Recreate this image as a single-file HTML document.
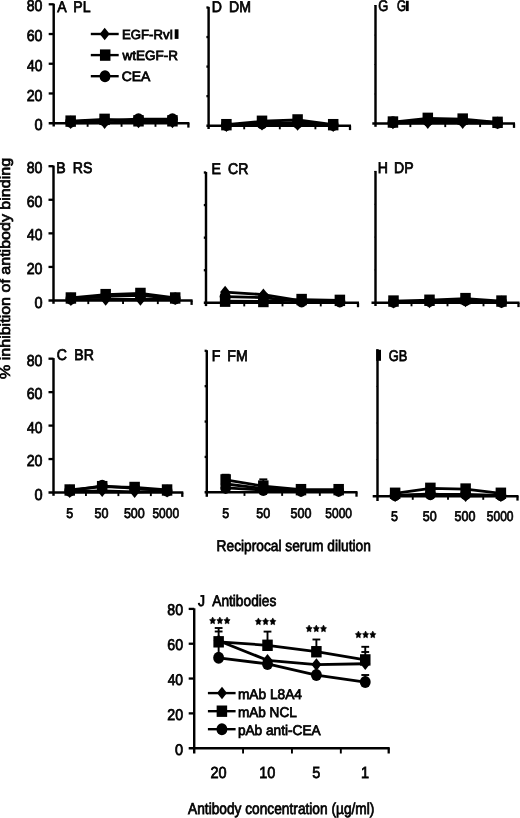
<!DOCTYPE html>
<html><head><meta charset="utf-8"><style>
html,body{margin:0;padding:0;background:#fff;}
body{width:520px;height:818px;overflow:hidden;}
svg{display:block;filter:grayscale(1);}
text{font-family:"Liberation Sans",sans-serif;text-rendering:geometricPrecision;fill:#000;stroke:#000;stroke-width:0.75px;}
</style></head><body>
<svg width="520" height="818" viewBox="0 0 520 818" fill="#000">
<g stroke="none">
</g>
<line x1="53.70" y1="3.70" x2="53.70" y2="126.50" stroke="#000" stroke-width="2.45"/>
<line x1="48.70" y1="123.20" x2="189.40" y2="123.20" stroke="#000" stroke-width="2.45"/>
<line x1="48.70" y1="93.47" x2="53.70" y2="93.47" stroke="#000" stroke-width="2.3"/>
<line x1="48.70" y1="63.75" x2="53.70" y2="63.75" stroke="#000" stroke-width="2.3"/>
<line x1="48.70" y1="34.02" x2="53.70" y2="34.02" stroke="#000" stroke-width="2.3"/>
<line x1="48.70" y1="4.30" x2="53.70" y2="4.30" stroke="#000" stroke-width="2.3"/>
<line x1="87.62" y1="123.20" x2="87.62" y2="126.80" stroke="#000" stroke-width="1.9"/>
<line x1="121.55" y1="123.20" x2="121.55" y2="126.80" stroke="#000" stroke-width="1.9"/>
<line x1="155.47" y1="123.20" x2="155.47" y2="126.80" stroke="#000" stroke-width="1.9"/>
<line x1="188.40" y1="123.20" x2="188.40" y2="127.60" stroke="#000" stroke-width="2.3"/>
<path d="M70.66 122.75 L104.59 122.61 L138.51 122.01 L172.44 122.01" fill="none" stroke="#000" stroke-width="2.8" stroke-linejoin="round"/>
<path d="M70.66 121.12 L104.59 119.34 L138.51 120.82 L172.44 120.82" fill="none" stroke="#000" stroke-width="2.8" stroke-linejoin="round"/>
<path d="M70.66 121.71 L104.59 120.52 L138.51 119.19 L172.44 119.19" fill="none" stroke="#000" stroke-width="2.8" stroke-linejoin="round"/>
<path d="M70.66 116.48L75.65 122.75L70.66 129.02L65.67 122.75Z"/>
<path d="M104.59 116.34L109.58 122.61L104.59 128.88L99.60 122.61Z"/>
<path d="M138.51 115.74L143.50 122.01L138.51 128.28L133.52 122.01Z"/>
<path d="M172.44 115.74L177.43 122.01L172.44 128.28L167.45 122.01Z"/>
<rect x="65.41" y="115.42" width="10.50" height="11.40"/>
<rect x="99.34" y="113.64" width="10.50" height="11.40"/>
<rect x="133.26" y="115.12" width="10.50" height="11.40"/>
<rect x="167.19" y="115.12" width="10.50" height="11.40"/>
<ellipse cx="70.66" cy="121.71" rx="5.45" ry="6.00"/>
<ellipse cx="104.59" cy="120.52" rx="5.45" ry="6.00"/>
<ellipse cx="138.51" cy="119.19" rx="5.45" ry="6.00"/>
<ellipse cx="172.44" cy="119.19" rx="5.45" ry="6.00"/>
<line x1="208.60" y1="6.90" x2="208.60" y2="129.00" stroke="#000" stroke-width="2.45"/>
<line x1="206.40" y1="125.70" x2="351.00" y2="125.70" stroke="#000" stroke-width="2.45"/>
<line x1="206.40" y1="96.15" x2="208.60" y2="96.15" stroke="#000" stroke-width="2.3"/>
<line x1="206.40" y1="66.60" x2="208.60" y2="66.60" stroke="#000" stroke-width="2.3"/>
<line x1="206.40" y1="37.05" x2="208.60" y2="37.05" stroke="#000" stroke-width="2.3"/>
<line x1="206.40" y1="7.50" x2="208.60" y2="7.50" stroke="#000" stroke-width="2.3"/>
<line x1="244.20" y1="125.70" x2="244.20" y2="129.30" stroke="#000" stroke-width="1.9"/>
<line x1="279.80" y1="125.70" x2="279.80" y2="129.30" stroke="#000" stroke-width="1.9"/>
<line x1="315.40" y1="125.70" x2="315.40" y2="129.30" stroke="#000" stroke-width="1.9"/>
<line x1="350.00" y1="125.70" x2="350.00" y2="130.10" stroke="#000" stroke-width="2.3"/>
<path d="M226.40 125.70 L262.00 124.22 L297.60 124.52 L333.20 125.70" fill="none" stroke="#000" stroke-width="2.8" stroke-linejoin="round"/>
<path d="M226.40 124.67 L262.00 121.27 L297.60 119.94 L333.20 124.67" fill="none" stroke="#000" stroke-width="2.8" stroke-linejoin="round"/>
<path d="M226.40 124.96 L262.00 123.48 L297.60 122.75 L333.20 124.96" fill="none" stroke="#000" stroke-width="2.8" stroke-linejoin="round"/>
<path d="M226.40 119.43L231.39 125.70L226.40 131.97L221.41 125.70Z"/>
<path d="M262.00 117.95L266.99 124.22L262.00 130.49L257.01 124.22Z"/>
<path d="M297.60 118.25L302.59 124.52L297.60 130.79L292.61 124.52Z"/>
<path d="M333.20 119.43L338.19 125.70L333.20 131.97L328.21 125.70Z"/>
<rect x="221.15" y="118.97" width="10.50" height="11.40"/>
<rect x="256.75" y="115.57" width="10.50" height="11.40"/>
<rect x="292.35" y="114.24" width="10.50" height="11.40"/>
<rect x="327.95" y="118.97" width="10.50" height="11.40"/>
<ellipse cx="226.40" cy="124.96" rx="5.45" ry="6.00"/>
<ellipse cx="262.00" cy="123.48" rx="5.45" ry="6.00"/>
<ellipse cx="297.60" cy="122.75" rx="5.45" ry="6.00"/>
<ellipse cx="333.20" cy="124.96" rx="5.45" ry="6.00"/>
<line x1="375.50" y1="5.00" x2="375.50" y2="126.80" stroke="#000" stroke-width="2.45"/>
<line x1="372.30" y1="123.50" x2="515.00" y2="123.50" stroke="#000" stroke-width="2.45"/>
<line x1="374.50" y1="94.03" x2="375.50" y2="94.03" stroke="#000" stroke-width="1.0"/>
<line x1="374.50" y1="64.55" x2="375.50" y2="64.55" stroke="#000" stroke-width="1.0"/>
<line x1="374.50" y1="35.07" x2="375.50" y2="35.07" stroke="#000" stroke-width="1.0"/>
<line x1="374.50" y1="5.60" x2="375.50" y2="5.60" stroke="#000" stroke-width="1.0"/>
<line x1="410.38" y1="123.50" x2="410.38" y2="127.10" stroke="#000" stroke-width="1.9"/>
<line x1="445.25" y1="123.50" x2="445.25" y2="127.10" stroke="#000" stroke-width="1.9"/>
<line x1="480.12" y1="123.50" x2="480.12" y2="127.10" stroke="#000" stroke-width="1.9"/>
<line x1="514.00" y1="123.50" x2="514.00" y2="127.90" stroke="#000" stroke-width="2.3"/>
<path d="M392.94 123.06 L427.81 122.62 L462.69 122.62 L497.56 123.06" fill="none" stroke="#000" stroke-width="2.8" stroke-linejoin="round"/>
<path d="M392.94 122.03 L427.81 118.34 L462.69 119.08 L497.56 122.32" fill="none" stroke="#000" stroke-width="2.8" stroke-linejoin="round"/>
<path d="M392.94 122.32 L427.81 120.55 L462.69 120.55 L497.56 122.76" fill="none" stroke="#000" stroke-width="2.8" stroke-linejoin="round"/>
<path d="M392.94 116.79L397.93 123.06L392.94 129.33L387.95 123.06Z"/>
<path d="M427.81 116.35L432.80 122.62L427.81 128.89L422.82 122.62Z"/>
<path d="M462.69 116.35L467.68 122.62L462.69 128.89L457.70 122.62Z"/>
<path d="M497.56 116.79L502.55 123.06L497.56 129.33L492.57 123.06Z"/>
<rect x="387.69" y="116.33" width="10.50" height="11.40"/>
<rect x="422.56" y="112.64" width="10.50" height="11.40"/>
<rect x="457.44" y="113.38" width="10.50" height="11.40"/>
<rect x="492.31" y="116.62" width="10.50" height="11.40"/>
<ellipse cx="392.94" cy="122.32" rx="5.45" ry="6.00"/>
<ellipse cx="427.81" cy="120.55" rx="5.45" ry="6.00"/>
<ellipse cx="462.69" cy="120.55" rx="5.45" ry="6.00"/>
<ellipse cx="497.56" cy="122.76" rx="5.45" ry="6.00"/>
<line x1="53.50" y1="165.60" x2="53.50" y2="303.80" stroke="#000" stroke-width="2.45"/>
<line x1="48.50" y1="300.50" x2="192.60" y2="300.50" stroke="#000" stroke-width="2.45"/>
<line x1="48.50" y1="266.93" x2="53.50" y2="266.93" stroke="#000" stroke-width="2.3"/>
<line x1="48.50" y1="233.35" x2="53.50" y2="233.35" stroke="#000" stroke-width="2.3"/>
<line x1="48.50" y1="199.77" x2="53.50" y2="199.77" stroke="#000" stroke-width="2.3"/>
<line x1="48.50" y1="166.20" x2="53.50" y2="166.20" stroke="#000" stroke-width="2.3"/>
<line x1="88.28" y1="300.50" x2="88.28" y2="304.10" stroke="#000" stroke-width="1.9"/>
<line x1="123.05" y1="300.50" x2="123.05" y2="304.10" stroke="#000" stroke-width="1.9"/>
<line x1="157.82" y1="300.50" x2="157.82" y2="304.10" stroke="#000" stroke-width="1.9"/>
<line x1="191.60" y1="300.50" x2="191.60" y2="304.90" stroke="#000" stroke-width="2.3"/>
<path d="M70.89 299.66 L105.66 299.49 L140.44 299.49 L175.21 298.82" fill="none" stroke="#000" stroke-width="2.8" stroke-linejoin="round"/>
<path d="M70.89 297.98 L105.66 294.62 L140.44 293.45 L175.21 297.98" fill="none" stroke="#000" stroke-width="2.8" stroke-linejoin="round"/>
<path d="M70.89 298.82 L105.66 296.30 L140.44 295.46 L175.21 298.49" fill="none" stroke="#000" stroke-width="2.8" stroke-linejoin="round"/>
<path d="M70.89 293.39L75.88 299.66L70.89 305.93L65.90 299.66Z"/>
<path d="M105.66 293.22L110.65 299.49L105.66 305.76L100.67 299.49Z"/>
<path d="M140.44 293.22L145.43 299.49L140.44 305.76L135.45 299.49Z"/>
<path d="M175.21 292.55L180.20 298.82L175.21 305.09L170.22 298.82Z"/>
<rect x="65.64" y="292.28" width="10.50" height="11.40"/>
<rect x="100.41" y="288.92" width="10.50" height="11.40"/>
<rect x="135.19" y="287.75" width="10.50" height="11.40"/>
<rect x="169.96" y="292.28" width="10.50" height="11.40"/>
<ellipse cx="70.89" cy="298.82" rx="5.45" ry="6.00"/>
<ellipse cx="105.66" cy="296.30" rx="5.45" ry="6.00"/>
<ellipse cx="140.44" cy="295.46" rx="5.45" ry="6.00"/>
<ellipse cx="175.21" cy="298.49" rx="5.45" ry="6.00"/>
<line x1="206.00" y1="171.90" x2="206.00" y2="306.10" stroke="#000" stroke-width="2.45"/>
<line x1="203.80" y1="302.80" x2="359.00" y2="302.80" stroke="#000" stroke-width="2.45"/>
<line x1="203.80" y1="270.23" x2="206.00" y2="270.23" stroke="#000" stroke-width="2.3"/>
<line x1="203.80" y1="237.65" x2="206.00" y2="237.65" stroke="#000" stroke-width="2.3"/>
<line x1="203.80" y1="205.07" x2="206.00" y2="205.07" stroke="#000" stroke-width="2.3"/>
<line x1="203.80" y1="172.50" x2="206.00" y2="172.50" stroke="#000" stroke-width="2.3"/>
<line x1="244.25" y1="302.80" x2="244.25" y2="306.40" stroke="#000" stroke-width="1.9"/>
<line x1="282.50" y1="302.80" x2="282.50" y2="306.40" stroke="#000" stroke-width="1.9"/>
<line x1="320.75" y1="302.80" x2="320.75" y2="306.40" stroke="#000" stroke-width="1.9"/>
<line x1="358.00" y1="302.80" x2="358.00" y2="307.20" stroke="#000" stroke-width="2.3"/>
<path d="M225.12 301.17 L263.38 301.50 L301.62 299.54 L339.88 300.36" fill="none" stroke="#000" stroke-width="2.8" stroke-linejoin="round"/>
<path d="M225.12 296.61 L263.38 297.59 L301.62 301.50 L339.88 301.50" fill="none" stroke="#000" stroke-width="2.8" stroke-linejoin="round"/>
<path d="M225.12 292.05 L263.38 294.66 L301.62 300.85 L339.88 301.17" fill="none" stroke="#000" stroke-width="2.8" stroke-linejoin="round"/>
<rect x="219.88" y="295.47" width="10.50" height="11.40"/>
<rect x="258.12" y="295.80" width="10.50" height="11.40"/>
<rect x="296.38" y="293.84" width="10.50" height="11.40"/>
<rect x="334.62" y="294.66" width="10.50" height="11.40"/>
<ellipse cx="225.12" cy="296.61" rx="5.45" ry="6.00"/>
<ellipse cx="263.38" cy="297.59" rx="5.45" ry="6.00"/>
<ellipse cx="301.62" cy="301.50" rx="5.45" ry="6.00"/>
<ellipse cx="339.88" cy="301.50" rx="5.45" ry="6.00"/>
<path d="M225.12 285.78L230.11 292.05L225.12 298.32L220.14 292.05Z"/>
<path d="M263.38 288.39L268.36 294.66L263.38 300.93L258.39 294.66Z"/>
<path d="M301.62 294.58L306.61 300.85L301.62 307.12L296.64 300.85Z"/>
<path d="M339.88 294.90L344.86 301.17L339.88 307.44L334.89 301.17Z"/>
<line x1="375.50" y1="170.90" x2="375.50" y2="306.00" stroke="#000" stroke-width="2.45"/>
<line x1="371.50" y1="302.70" x2="519.50" y2="302.70" stroke="#000" stroke-width="2.45"/>
<line x1="374.50" y1="269.90" x2="375.50" y2="269.90" stroke="#000" stroke-width="1.0"/>
<line x1="374.50" y1="237.10" x2="375.50" y2="237.10" stroke="#000" stroke-width="1.0"/>
<line x1="374.50" y1="204.30" x2="375.50" y2="204.30" stroke="#000" stroke-width="1.0"/>
<line x1="374.50" y1="171.50" x2="375.50" y2="171.50" stroke="#000" stroke-width="1.0"/>
<line x1="411.50" y1="302.70" x2="411.50" y2="306.30" stroke="#000" stroke-width="1.9"/>
<line x1="447.50" y1="302.70" x2="447.50" y2="306.30" stroke="#000" stroke-width="1.9"/>
<line x1="483.50" y1="302.70" x2="483.50" y2="306.30" stroke="#000" stroke-width="1.9"/>
<line x1="518.50" y1="302.70" x2="518.50" y2="307.10" stroke="#000" stroke-width="2.3"/>
<path d="M393.50 302.21 L429.50 301.88 L465.50 301.06 L501.50 301.88" fill="none" stroke="#000" stroke-width="2.8" stroke-linejoin="round"/>
<path d="M393.50 301.06 L429.50 300.24 L465.50 298.60 L501.50 301.06" fill="none" stroke="#000" stroke-width="2.8" stroke-linejoin="round"/>
<path d="M393.50 301.88 L429.50 301.06 L465.50 300.24 L501.50 301.88" fill="none" stroke="#000" stroke-width="2.8" stroke-linejoin="round"/>
<path d="M393.50 295.94L398.49 302.21L393.50 308.48L388.51 302.21Z"/>
<path d="M429.50 295.61L434.49 301.88L429.50 308.15L424.51 301.88Z"/>
<path d="M465.50 294.79L470.49 301.06L465.50 307.33L460.51 301.06Z"/>
<path d="M501.50 295.61L506.49 301.88L501.50 308.15L496.51 301.88Z"/>
<rect x="388.25" y="295.36" width="10.50" height="11.40"/>
<rect x="424.25" y="294.54" width="10.50" height="11.40"/>
<rect x="460.25" y="292.90" width="10.50" height="11.40"/>
<rect x="496.25" y="295.36" width="10.50" height="11.40"/>
<ellipse cx="393.50" cy="301.88" rx="5.45" ry="6.00"/>
<ellipse cx="429.50" cy="301.06" rx="5.45" ry="6.00"/>
<ellipse cx="465.50" cy="300.24" rx="5.45" ry="6.00"/>
<ellipse cx="501.50" cy="301.88" rx="5.45" ry="6.00"/>
<line x1="53.50" y1="358.10" x2="53.50" y2="495.80" stroke="#000" stroke-width="2.45"/>
<line x1="48.50" y1="492.50" x2="183.30" y2="492.50" stroke="#000" stroke-width="2.45"/>
<line x1="48.50" y1="459.05" x2="53.50" y2="459.05" stroke="#000" stroke-width="2.3"/>
<line x1="48.50" y1="425.60" x2="53.50" y2="425.60" stroke="#000" stroke-width="2.3"/>
<line x1="48.50" y1="392.15" x2="53.50" y2="392.15" stroke="#000" stroke-width="2.3"/>
<line x1="48.50" y1="358.70" x2="53.50" y2="358.70" stroke="#000" stroke-width="2.3"/>
<line x1="85.95" y1="492.50" x2="85.95" y2="496.10" stroke="#000" stroke-width="1.9"/>
<line x1="118.40" y1="492.50" x2="118.40" y2="496.10" stroke="#000" stroke-width="1.9"/>
<line x1="150.85" y1="492.50" x2="150.85" y2="496.10" stroke="#000" stroke-width="1.9"/>
<line x1="182.30" y1="492.50" x2="182.30" y2="496.90" stroke="#000" stroke-width="2.3"/>
<path d="M69.72 491.66 L102.18 490.83 L134.62 491.83 L167.08 491.16" fill="none" stroke="#000" stroke-width="2.8" stroke-linejoin="round"/>
<path d="M69.72 489.99 L102.18 486.65 L134.62 487.48 L167.08 489.99" fill="none" stroke="#000" stroke-width="2.8" stroke-linejoin="round"/>
<path d="M69.72 490.83 L102.18 485.81 L134.62 488.32 L167.08 490.83" fill="none" stroke="#000" stroke-width="2.8" stroke-linejoin="round"/>
<path d="M69.72 485.39L74.71 491.66L69.72 497.93L64.74 491.66Z"/>
<path d="M102.18 484.56L107.16 490.83L102.18 497.10L97.19 490.83Z"/>
<path d="M134.62 485.56L139.61 491.83L134.62 498.10L129.64 491.83Z"/>
<path d="M167.08 484.89L172.06 491.16L167.08 497.43L162.09 491.16Z"/>
<rect x="64.47" y="484.29" width="10.50" height="11.40"/>
<rect x="96.93" y="480.95" width="10.50" height="11.40"/>
<rect x="129.38" y="481.78" width="10.50" height="11.40"/>
<rect x="161.83" y="484.29" width="10.50" height="11.40"/>
<ellipse cx="69.72" cy="490.83" rx="5.45" ry="6.00"/>
<ellipse cx="102.18" cy="485.81" rx="5.45" ry="6.00"/>
<ellipse cx="134.62" cy="488.32" rx="5.45" ry="6.00"/>
<ellipse cx="167.08" cy="490.83" rx="5.45" ry="6.00"/>
<line x1="206.80" y1="350.20" x2="206.80" y2="496.80" stroke="#000" stroke-width="2.45"/>
<line x1="204.60" y1="492.30" x2="357.50" y2="492.30" stroke="#000" stroke-width="2.45"/>
<line x1="204.60" y1="456.93" x2="206.80" y2="456.93" stroke="#000" stroke-width="2.3"/>
<line x1="204.60" y1="421.55" x2="206.80" y2="421.55" stroke="#000" stroke-width="2.3"/>
<line x1="204.60" y1="386.18" x2="206.80" y2="386.18" stroke="#000" stroke-width="2.3"/>
<line x1="204.60" y1="350.80" x2="206.80" y2="350.80" stroke="#000" stroke-width="2.3"/>
<line x1="244.48" y1="492.30" x2="244.48" y2="495.90" stroke="#000" stroke-width="1.9"/>
<line x1="282.15" y1="492.30" x2="282.15" y2="495.90" stroke="#000" stroke-width="1.9"/>
<line x1="319.82" y1="492.30" x2="319.82" y2="495.90" stroke="#000" stroke-width="1.9"/>
<line x1="356.50" y1="492.30" x2="356.50" y2="496.70" stroke="#000" stroke-width="2.3"/>
<path d="M225.64 487.88 L263.31 490.00 L300.99 490.88 L338.66 490.88" fill="none" stroke="#000" stroke-width="2.8" stroke-linejoin="round"/>
<path d="M225.64 483.99 L263.31 488.59 L300.99 490.53 L338.66 490.53" fill="none" stroke="#000" stroke-width="2.8" stroke-linejoin="round"/>
<path d="M225.64 479.92 L263.31 486.11 L300.99 489.65 L338.66 489.65" fill="none" stroke="#000" stroke-width="2.8" stroke-linejoin="round"/>
<ellipse cx="225.64" cy="487.88" rx="5.45" ry="6.00"/>
<ellipse cx="263.31" cy="490.00" rx="5.45" ry="6.00"/>
<ellipse cx="300.99" cy="490.88" rx="5.45" ry="6.00"/>
<ellipse cx="338.66" cy="490.88" rx="5.45" ry="6.00"/>
<path d="M225.64 477.72L230.63 483.99L225.64 490.26L220.65 483.99Z"/>
<path d="M263.31 482.32L268.30 488.59L263.31 494.86L258.32 488.59Z"/>
<path d="M300.99 484.26L305.98 490.53L300.99 496.80L296.00 490.53Z"/>
<path d="M338.66 484.26L343.65 490.53L338.66 496.80L333.68 490.53Z"/>
<rect x="220.39" y="474.22" width="10.50" height="11.40"/>
<rect x="258.06" y="480.41" width="10.50" height="11.40"/>
<rect x="295.74" y="483.95" width="10.50" height="11.40"/>
<rect x="333.41" y="483.95" width="10.50" height="11.40"/>
<line x1="225.64" y1="474.79" x2="225.64" y2="479.92" stroke="#000" stroke-width="1.9"/>
<line x1="221.64" y1="474.79" x2="229.64" y2="474.79" stroke="#000" stroke-width="2.0"/>
<line x1="263.31" y1="479.39" x2="263.31" y2="486.11" stroke="#000" stroke-width="1.9"/>
<line x1="259.31" y1="479.39" x2="267.31" y2="479.39" stroke="#000" stroke-width="2.0"/>
<line x1="377.50" y1="349.20" x2="377.50" y2="501.00" stroke="#000" stroke-width="2.45"/>
<line x1="372.70" y1="496.20" x2="518.50" y2="496.20" stroke="#000" stroke-width="2.45"/>
<line x1="376.50" y1="459.60" x2="377.50" y2="459.60" stroke="#000" stroke-width="1.0"/>
<line x1="376.50" y1="423.00" x2="377.50" y2="423.00" stroke="#000" stroke-width="1.0"/>
<line x1="376.50" y1="386.40" x2="377.50" y2="386.40" stroke="#000" stroke-width="1.0"/>
<line x1="376.50" y1="349.80" x2="377.50" y2="349.80" stroke="#000" stroke-width="1.0"/>
<line x1="412.75" y1="496.20" x2="412.75" y2="499.80" stroke="#000" stroke-width="1.9"/>
<line x1="448.00" y1="496.20" x2="448.00" y2="499.80" stroke="#000" stroke-width="1.9"/>
<line x1="483.25" y1="496.20" x2="483.25" y2="499.80" stroke="#000" stroke-width="1.9"/>
<line x1="517.50" y1="496.20" x2="517.50" y2="500.60" stroke="#000" stroke-width="2.3"/>
<path d="M395.12 495.65 L430.38 494.00 L465.62 495.83 L500.88 495.65" fill="none" stroke="#000" stroke-width="2.8" stroke-linejoin="round"/>
<path d="M395.12 493.27 L430.38 488.33 L465.62 489.06 L500.88 493.27" fill="none" stroke="#000" stroke-width="2.8" stroke-linejoin="round"/>
<path d="M395.12 495.28 L430.38 494.37 L465.62 494.37 L500.88 495.28" fill="none" stroke="#000" stroke-width="2.8" stroke-linejoin="round"/>
<path d="M395.12 489.38L400.11 495.65L395.12 501.92L390.14 495.65Z"/>
<path d="M430.38 487.73L435.36 494.00L430.38 500.27L425.39 494.00Z"/>
<path d="M465.62 489.56L470.61 495.83L465.62 502.10L460.64 495.83Z"/>
<path d="M500.88 489.38L505.86 495.65L500.88 501.92L495.89 495.65Z"/>
<rect x="389.88" y="487.57" width="10.50" height="11.40"/>
<rect x="425.12" y="482.63" width="10.50" height="11.40"/>
<rect x="460.38" y="483.36" width="10.50" height="11.40"/>
<rect x="495.62" y="487.57" width="10.50" height="11.40"/>
<ellipse cx="395.12" cy="495.28" rx="5.45" ry="6.00"/>
<ellipse cx="430.38" cy="494.37" rx="5.45" ry="6.00"/>
<ellipse cx="465.62" cy="494.37" rx="5.45" ry="6.00"/>
<ellipse cx="500.88" cy="495.28" rx="5.45" ry="6.00"/>
<line x1="194.20" y1="608.30" x2="194.20" y2="753.50" stroke="#000" stroke-width="2.45"/>
<line x1="188.70" y1="748.20" x2="389.70" y2="748.20" stroke="#000" stroke-width="2.45"/>
<line x1="188.70" y1="713.38" x2="194.20" y2="713.38" stroke="#000" stroke-width="2.3"/>
<line x1="188.70" y1="678.55" x2="194.20" y2="678.55" stroke="#000" stroke-width="2.3"/>
<line x1="188.70" y1="643.73" x2="194.20" y2="643.73" stroke="#000" stroke-width="2.3"/>
<line x1="188.70" y1="608.90" x2="194.20" y2="608.90" stroke="#000" stroke-width="2.3"/>
<line x1="243.07" y1="748.20" x2="243.07" y2="753.50" stroke="#000" stroke-width="1.9"/>
<line x1="291.95" y1="748.20" x2="291.95" y2="753.50" stroke="#000" stroke-width="1.9"/>
<line x1="340.82" y1="748.20" x2="340.82" y2="753.50" stroke="#000" stroke-width="1.9"/>
<line x1="388.70" y1="748.20" x2="388.70" y2="753.50" stroke="#000" stroke-width="2.3"/>
<path d="M218.64 640.76 L267.51 660.27 L316.39 664.62 L365.26 663.75" fill="none" stroke="#000" stroke-width="2.8" stroke-linejoin="round"/>
<path d="M218.64 641.81 L267.51 645.29 L316.39 651.73 L365.26 659.92" fill="none" stroke="#000" stroke-width="2.8" stroke-linejoin="round"/>
<path d="M218.64 657.83 L267.51 663.92 L316.39 675.07 L365.26 682.03" fill="none" stroke="#000" stroke-width="2.8" stroke-linejoin="round"/>
<path d="M218.64 634.49L223.62 640.76L218.64 647.03L213.65 640.76Z"/>
<path d="M267.51 654.00L272.50 660.27L267.51 666.54L262.52 660.27Z"/>
<path d="M316.39 658.35L321.38 664.62L316.39 670.89L311.40 664.62Z"/>
<path d="M365.26 657.48L370.25 663.75L365.26 670.02L360.27 663.75Z"/>
<rect x="213.39" y="636.11" width="10.50" height="11.40"/>
<rect x="262.26" y="639.59" width="10.50" height="11.40"/>
<rect x="311.14" y="646.03" width="10.50" height="11.40"/>
<rect x="360.01" y="654.22" width="10.50" height="11.40"/>
<ellipse cx="218.64" cy="657.83" rx="5.45" ry="6.00"/>
<ellipse cx="267.51" cy="663.92" rx="5.45" ry="6.00"/>
<ellipse cx="316.39" cy="675.07" rx="5.45" ry="6.00"/>
<ellipse cx="365.26" cy="682.03" rx="5.45" ry="6.00"/>
<line x1="218.64" y1="628.00" x2="218.64" y2="652.00" stroke="#000" stroke-width="1.9"/>
<line x1="214.74" y1="628.00" x2="222.54" y2="628.00" stroke="#000" stroke-width="1.9"/>
<line x1="214.74" y1="631.50" x2="222.54" y2="631.50" stroke="#000" stroke-width="1.9"/>
<line x1="267.51" y1="631.60" x2="267.51" y2="642.00" stroke="#000" stroke-width="1.9"/>
<line x1="263.61" y1="631.60" x2="271.41" y2="631.60" stroke="#000" stroke-width="1.9"/>
<line x1="316.39" y1="639.50" x2="316.39" y2="650.00" stroke="#000" stroke-width="1.9"/>
<line x1="312.49" y1="639.50" x2="320.29" y2="639.50" stroke="#000" stroke-width="1.9"/>
<line x1="365.26" y1="646.80" x2="365.26" y2="657.00" stroke="#000" stroke-width="1.9"/>
<line x1="361.36" y1="646.80" x2="369.16" y2="646.80" stroke="#000" stroke-width="1.9"/>
<line x1="361.36" y1="652.00" x2="369.16" y2="652.00" stroke="#000" stroke-width="1.9"/>
<line x1="365.26" y1="675.00" x2="365.26" y2="680.00" stroke="#000" stroke-width="1.9"/>
<line x1="361.36" y1="675.00" x2="369.16" y2="675.00" stroke="#000" stroke-width="1.9"/>
<line x1="90.80" y1="34.00" x2="118.70" y2="34.00" stroke="#000" stroke-width="2.4"/>
<path d="M104.70 27.73L109.69 34.00L104.70 40.27L99.71 34.00Z"/>
<line x1="90.80" y1="55.10" x2="118.70" y2="55.10" stroke="#000" stroke-width="2.4"/>
<rect x="99.95" y="49.40" width="10.50" height="11.40"/>
<line x1="90.80" y1="76.20" x2="118.70" y2="76.20" stroke="#000" stroke-width="2.4"/>
<ellipse cx="105.00" cy="76.20" rx="5.45" ry="6.00"/>
<line x1="207.90" y1="693.10" x2="235.60" y2="693.10" stroke="#000" stroke-width="2.4"/>
<path d="M222.00 686.83L226.99 693.10L222.00 699.37L217.01 693.10Z"/>
<line x1="207.90" y1="711.20" x2="235.60" y2="711.20" stroke="#000" stroke-width="2.4"/>
<rect x="216.65" y="705.50" width="10.50" height="11.40"/>
<line x1="207.90" y1="729.20" x2="235.60" y2="729.20" stroke="#000" stroke-width="2.4"/>
<ellipse cx="221.90" cy="729.20" rx="5.45" ry="6.00"/>
<text transform="translate(34.42,130.24) scale(0.921,1)" font-size="15.77">0</text>
<text transform="translate(26.69,100.52) scale(0.901,1)" font-size="15.77">20</text>
<text transform="translate(27.05,70.79) scale(0.880,1)" font-size="15.77">40</text>
<text transform="translate(26.69,41.07) scale(0.901,1)" font-size="15.77">60</text>
<text transform="translate(26.76,11.34) scale(0.897,1)" font-size="15.77">80</text>
<text transform="translate(34.42,307.54) scale(0.921,1)" font-size="15.77">0</text>
<text transform="translate(26.69,273.97) scale(0.901,1)" font-size="15.77">20</text>
<text transform="translate(27.05,240.39) scale(0.880,1)" font-size="15.77">40</text>
<text transform="translate(26.69,206.82) scale(0.901,1)" font-size="15.77">60</text>
<text transform="translate(26.76,173.24) scale(0.897,1)" font-size="15.77">80</text>
<text transform="translate(34.42,499.54) scale(0.921,1)" font-size="15.77">0</text>
<text transform="translate(26.69,466.09) scale(0.901,1)" font-size="15.77">20</text>
<text transform="translate(27.05,432.64) scale(0.880,1)" font-size="15.77">40</text>
<text transform="translate(26.69,399.19) scale(0.901,1)" font-size="15.77">60</text>
<text transform="translate(26.76,365.74) scale(0.897,1)" font-size="15.77">80</text>
<text transform="translate(175.02,754.64) scale(0.929,1)" font-size="15.63">0</text>
<text transform="translate(167.29,719.82) scale(0.909,1)" font-size="15.63">20</text>
<text transform="translate(167.65,684.99) scale(0.888,1)" font-size="15.63">40</text>
<text transform="translate(167.29,650.17) scale(0.909,1)" font-size="15.63">60</text>
<text transform="translate(167.36,615.34) scale(0.905,1)" font-size="15.63">80</text>
<text transform="translate(66.24,517.90) scale(0.890,1)" font-size="14.10">5</text>
<text transform="translate(94.51,517.90) scale(0.890,1)" font-size="14.10">50</text>
<text transform="translate(123.88,517.90) scale(0.890,1)" font-size="14.10">500</text>
<text transform="translate(152.44,517.90) scale(0.850,1)" font-size="14.10">5000</text>
<text transform="translate(222.16,517.90) scale(0.890,1)" font-size="14.10">5</text>
<text transform="translate(256.35,517.90) scale(0.890,1)" font-size="14.10">50</text>
<text transform="translate(290.54,517.90) scale(0.890,1)" font-size="14.10">500</text>
<text transform="translate(325.33,517.90) scale(0.850,1)" font-size="14.10">5000</text>
<text transform="translate(390.94,521.30) scale(0.890,1)" font-size="14.10">5</text>
<text transform="translate(422.71,521.30) scale(0.890,1)" font-size="14.10">50</text>
<text transform="translate(454.48,521.30) scale(0.890,1)" font-size="14.10">500</text>
<text transform="translate(486.84,521.30) scale(0.850,1)" font-size="14.10">5000</text>
<text transform="translate(210.52,778.20) scale(0.900,1)" font-size="16.10">20</text>
<text transform="translate(259.22,778.20) scale(0.900,1)" font-size="16.10">10</text>
<text transform="translate(312.37,778.20) scale(0.900,1)" font-size="16.10">5</text>
<text transform="translate(361.06,778.20) scale(0.900,1)" font-size="16.10">1</text>
<text transform="translate(378.16,11.10) scale(0.830,1)" font-size="15.50">G</text>
<text transform="translate(397.02,11.10) scale(0.750,1)" font-size="15.50">G</text>
<text transform="translate(57.13,11.50) scale(0.910,1)" font-size="15.50">A</text>
<text transform="translate(73.37,11.50) scale(0.910,1)" font-size="15.50">PL</text>
<text transform="translate(211.77,11.50) scale(0.910,1)" font-size="15.50">D</text>
<text transform="translate(229.07,11.50) scale(0.910,1)" font-size="15.50">DM</text>
<text transform="translate(56.37,173.40) scale(0.910,1)" font-size="15.50">B</text>
<text transform="translate(72.87,173.40) scale(0.910,1)" font-size="15.50">RS</text>
<text transform="translate(211.57,173.70) scale(0.910,1)" font-size="15.50">E</text>
<text transform="translate(228.09,173.60) scale(0.910,1)" font-size="15.50">CR</text>
<text transform="translate(377.87,173.30) scale(0.910,1)" font-size="15.50">H</text>
<text transform="translate(394.07,173.30) scale(0.910,1)" font-size="15.50">DP</text>
<text transform="translate(56.79,360.20) scale(0.910,1)" font-size="15.50">C</text>
<text transform="translate(74.37,360.40) scale(0.910,1)" font-size="15.50">BR</text>
<text transform="translate(211.77,360.60) scale(0.910,1)" font-size="15.50">F</text>
<text transform="translate(227.37,360.60) scale(0.910,1)" font-size="15.50">FM</text>
<text transform="translate(197.89,606.40) scale(0.910,1)" font-size="15.50">J</text>
<text transform="translate(388.76,360.60) scale(0.830,1)" font-size="15.50">GB</text>
<text transform="translate(212.23,606.40) scale(0.885,1)" font-size="15.50">Antibodies</text>
<rect x="405.90" y="0.80" width="2.80" height="10.30"/>
<rect x="376.20" y="349.80" width="4.80" height="11.00"/>
<text transform="translate(122.05,38.67) scale(0.994,1)" font-size="13.24">EGF-RvI</text>
<rect x="174.70" y="29.30" width="3.80" height="9.60"/>
<text transform="translate(122.50,59.87) scale(1.008,1)" font-size="13.38">wtEGF-R</text>
<text transform="translate(121.80,81.06) scale(1.029,1)" font-size="13.52">CEA</text>
<text transform="translate(237.91,698.76) scale(0.970,1)" font-size="14.15">mAb L8A4</text>
<text transform="translate(237.92,717.46) scale(0.960,1)" font-size="14.15">mAb NCL</text>
<text transform="translate(237.91,734.66) scale(0.976,1)" font-size="14.01">pAb anti-CEA</text>
<polygon points="212.65,617.05 213.66,619.14 215.65,619.64 214.29,621.43 214.50,623.83 212.65,622.85 210.80,623.83 211.01,621.43 209.65,619.64 211.64,619.14" stroke="#000" stroke-width="0.6" stroke-linejoin="round"/>
<polygon points="219.85,617.05 220.86,619.14 222.85,619.64 221.49,621.43 221.70,623.83 219.85,622.85 218.00,623.83 218.21,621.43 216.85,619.64 218.84,619.14" stroke="#000" stroke-width="0.6" stroke-linejoin="round"/>
<polygon points="227.05,617.05 228.06,619.14 230.05,619.64 228.69,621.43 228.90,623.83 227.05,622.85 225.20,623.83 225.41,621.43 224.05,619.64 226.04,619.14" stroke="#000" stroke-width="0.6" stroke-linejoin="round"/>
<polygon points="258.40,617.95 259.41,620.04 261.40,620.54 260.04,622.33 260.25,624.73 258.40,623.75 256.55,624.73 256.76,622.33 255.40,620.54 257.39,620.04" stroke="#000" stroke-width="0.6" stroke-linejoin="round"/>
<polygon points="265.60,617.95 266.61,620.04 268.60,620.54 267.24,622.33 267.45,624.73 265.60,623.75 263.75,624.73 263.96,622.33 262.60,620.54 264.59,620.04" stroke="#000" stroke-width="0.6" stroke-linejoin="round"/>
<polygon points="272.80,617.95 273.81,620.04 275.80,620.54 274.44,622.33 274.65,624.73 272.80,623.75 270.95,624.73 271.16,622.33 269.80,620.54 271.79,620.04" stroke="#000" stroke-width="0.6" stroke-linejoin="round"/>
<polygon points="309.10,625.05 310.11,627.14 312.10,627.64 310.74,629.43 310.95,631.83 309.10,630.85 307.25,631.83 307.46,629.43 306.10,627.64 308.09,627.14" stroke="#000" stroke-width="0.6" stroke-linejoin="round"/>
<polygon points="316.30,625.05 317.31,627.14 319.30,627.64 317.94,629.43 318.15,631.83 316.30,630.85 314.45,631.83 314.66,629.43 313.30,627.64 315.29,627.14" stroke="#000" stroke-width="0.6" stroke-linejoin="round"/>
<polygon points="323.50,625.05 324.51,627.14 326.50,627.64 325.14,629.43 325.35,631.83 323.50,630.85 321.65,631.83 321.86,629.43 320.50,627.64 322.49,627.14" stroke="#000" stroke-width="0.6" stroke-linejoin="round"/>
<polygon points="358.40,631.05 359.41,633.14 361.40,633.64 360.04,635.43 360.25,637.83 358.40,636.85 356.55,637.83 356.76,635.43 355.40,633.64 357.39,633.14" stroke="#000" stroke-width="0.6" stroke-linejoin="round"/>
<polygon points="365.60,631.05 366.61,633.14 368.60,633.64 367.24,635.43 367.45,637.83 365.60,636.85 363.75,637.83 363.96,635.43 362.60,633.64 364.59,633.14" stroke="#000" stroke-width="0.6" stroke-linejoin="round"/>
<polygon points="372.80,631.05 373.81,633.14 375.80,633.64 374.44,635.43 374.65,637.83 372.80,636.85 370.95,637.83 371.16,635.43 369.80,633.64 371.79,633.14" stroke="#000" stroke-width="0.6" stroke-linejoin="round"/>
<text transform="translate(216.60,551.04) scale(0.886,1)" font-size="15.51">Reciprocal serum dilution</text>
<text transform="translate(188.03,814.08) scale(0.867,1)" font-size="15.83">Antibody concentration (µg/ml)</text>
<text transform="translate(10.02,378.96) rotate(-90) scale(1,0.914)" font-size="16.04">% inhibition of antibody binding</text>
</svg>
</body></html>
